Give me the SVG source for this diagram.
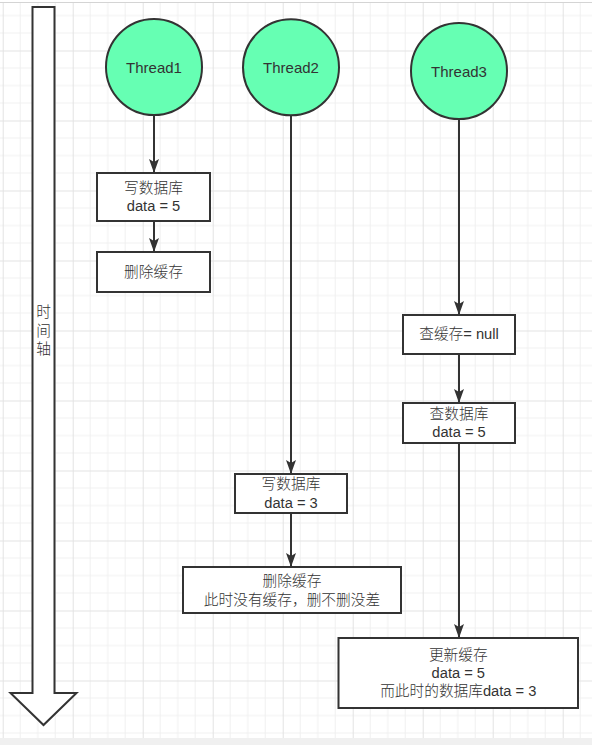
<svg xmlns="http://www.w3.org/2000/svg" width="592" height="745" viewBox="0 0 592 745">
  <defs>
    <pattern id="grid" patternUnits="userSpaceOnUse" x="2.7" y="-19.5" width="70" height="70">
      <path d="M17.5 0V70M35 0V70M52.5 0V70M0 17.5H70M0 35H70M0 52.5H70" stroke="#f0f0f0" stroke-width="1" fill="none"/>
      <path d="M0.5 0V70M0 0.5H70" stroke="#e3e3e3" stroke-width="1" fill="none"/>
    </pattern>
    <marker id="arr" markerUnits="userSpaceOnUse" markerWidth="14" markerHeight="10" refX="14" refY="5" orient="auto">
      <path d="M0 0L14 5L0 10L3 5Z" fill="#333"/>
    </marker>
  </defs>
  <style>
    .node { fill: #ffffff; stroke: #333333; stroke-width: 2; }
    .thread { fill: #66ffb3; stroke: #333333; stroke-width: 2; }
    .lbl { font-family: "Liberation Sans", "Noto Sans CJK SC", sans-serif; font-size: 14.7px; font-weight: 300; fill: #333333; text-anchor: middle; dominant-baseline: central; }
    .big { font-size: 15px; }
    .conn { stroke: #333333; stroke-width: 2; fill: none; marker-end: url(#arr); }
  </style>

  <rect x="0" y="0" width="592" height="745" fill="#ffffff"/>
  <rect x="0" y="3" width="592" height="735" fill="url(#grid)"/>
  <line x1="0" y1="2.5" x2="592" y2="2.5" stroke="#d4d4d4" stroke-width="1"/>
  <rect x="0" y="738" width="592" height="7" fill="#f0f0f0"/>

  <g id="timeline">
    <polygon class="node" points="32.5,7 54.5,7 54.5,693 76.5,693 43.5,725 10.5,693 32.5,693"/>
    <text class="lbl" x="43.5" y="312">时</text>
    <text class="lbl" x="43.5" y="330.5">间</text>
    <text class="lbl" x="43.5" y="349">轴</text>
  </g>

  <g id="connectors">
    <line class="conn" x1="154" y1="115" x2="154" y2="173"/>
    <line class="conn" x1="154" y1="221" x2="154" y2="252"/>
    <line class="conn" x1="291" y1="115.5" x2="291" y2="474"/>
    <line class="conn" x1="291" y1="513" x2="291" y2="567"/>
    <line class="conn" x1="459" y1="119" x2="459" y2="315"/>
    <line class="conn" x1="459" y1="354" x2="459" y2="403"/>
    <line class="conn" x1="459" y1="443" x2="459" y2="638"/>
  </g>

  <g id="thread1">
    <circle class="thread" cx="154" cy="67" r="48"/>
    <text class="lbl big" x="154" y="67">Thread1</text>
  </g>
  <g id="thread2">
    <circle class="thread" cx="291" cy="67.3" r="48"/>
    <text class="lbl big" x="291" y="67.3">Thread2</text>
  </g>
  <g id="thread3">
    <circle class="thread" cx="459" cy="71" r="48"/>
    <text class="lbl big" x="459" y="71">Thread3</text>
  </g>

  <g id="t1-write-db">
    <rect class="node" x="97" y="173" width="113" height="48"/>
    <text class="lbl" x="153.5" y="188">写数据库</text>
    <text class="lbl" x="153.5" y="206">data = 5</text>
  </g>
  <g id="t1-delete-cache">
    <rect class="node" x="97" y="252" width="113" height="40"/>
    <text class="lbl" x="153.5" y="271.5">删除缓存</text>
  </g>

  <g id="t2-write-db">
    <rect class="node" x="235" y="474" width="112" height="39"/>
    <text class="lbl" x="291" y="484">写数据库</text>
    <text class="lbl" x="291" y="502.5">data = 3</text>
  </g>
  <g id="t2-delete-cache">
    <rect class="node" x="183" y="567" width="218" height="46"/>
    <text class="lbl" x="292" y="580.5">删除缓存</text>
    <text class="lbl" x="292" y="600">此时没有缓存，删不删没差</text>
  </g>

  <g id="t3-read-cache">
    <rect class="node" x="403" y="315" width="112" height="39"/>
    <text class="lbl" x="459" y="334">查缓存= null</text>
  </g>
  <g id="t3-read-db">
    <rect class="node" x="403" y="403" width="112" height="40"/>
    <text class="lbl" x="459" y="414.3">查数据库</text>
    <text class="lbl" x="459" y="431.7">data = 5</text>
  </g>
  <g id="t3-update-cache">
    <rect class="node" x="338.5" y="638" width="239.5" height="70"/>
    <text class="lbl" x="458.3" y="655">更新缓存</text>
    <text class="lbl" x="458.3" y="672.7">data = 5</text>
    <text class="lbl" x="458.3" y="691">而此时的数据库data = 3</text>
  </g>
</svg>
